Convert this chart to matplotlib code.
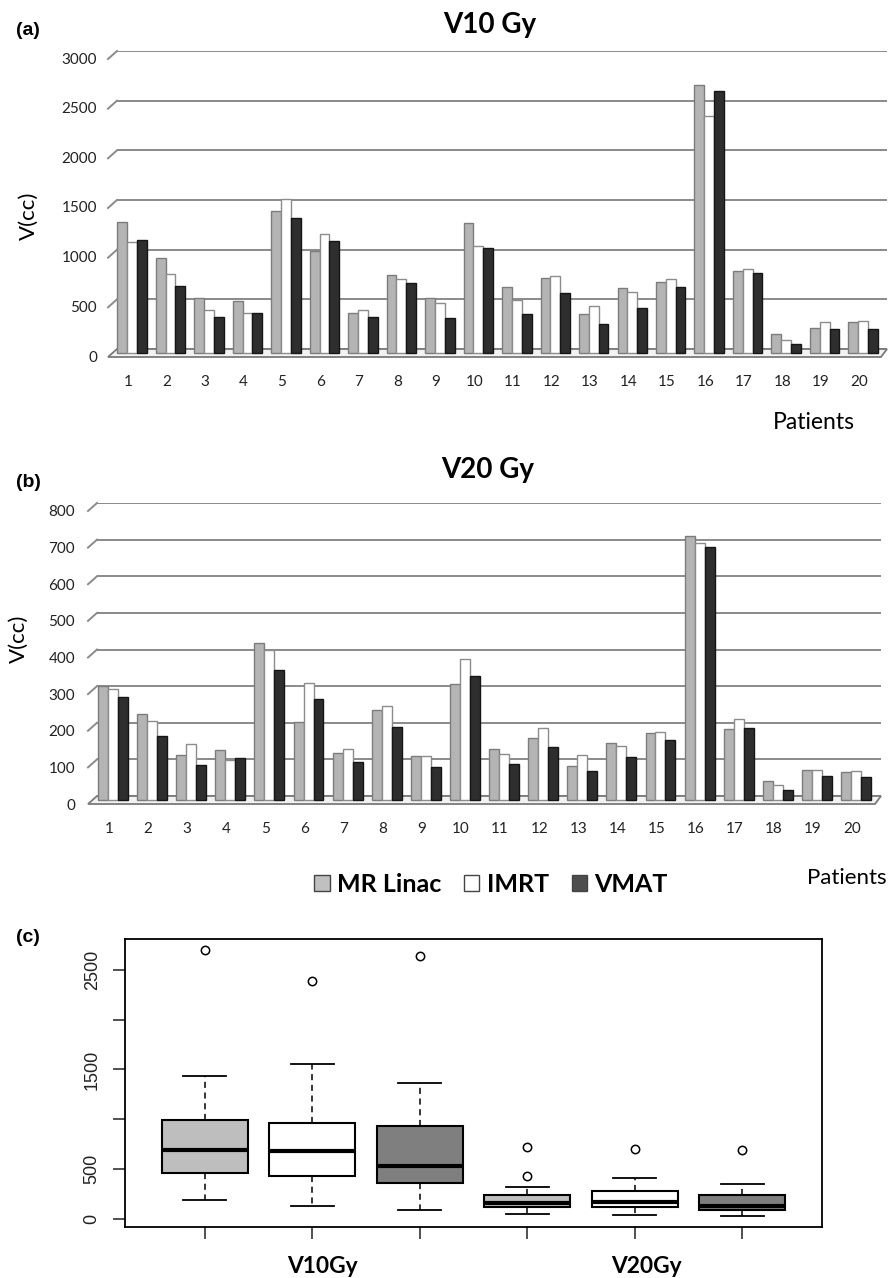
import numpy as np
import matplotlib
matplotlib.use("Agg")
import matplotlib.pyplot as plt
from matplotlib.transforms import ScaledTranslation, IdentityTransform
from matplotlib.lines import Line2D
from matplotlib.patches import Polygon, Patch

plt.rcParams['font.family'] = ['Lato', 'DejaVu Sans']

# ---------------- data ----------------
patients = [str(i) for i in range(1, 21)]
series = ['MR Linac', 'IMRT', 'VMAT']

v10_mr   = [1320, 960, 550, 520, 1430, 1030, 400, 785, 550, 1305, 665, 755, 390, 655, 715, 2700, 830, 190, 250, 315]
v10_imrt = [1120, 800, 430, 400, 1550, 1200, 430, 745, 505, 1080, 535, 775, 475, 615, 750, 2390, 850, 130, 315, 320]
v10_vmat = [1140, 670, 365, 405, 1360, 1125, 365, 705, 350, 1055, 390, 600, 295, 455, 665, 2640, 805, 90, 245, 240]

v20_mr   = [310, 235, 123, 136, 428, 213, 129, 245, 119, 317, 138, 170, 92, 156, 184, 722, 193, 51, 81, 76]
v20_imrt = [303, 217, 152, 108, 410, 320, 139, 256, 121, 384, 125, 197, 122, 147, 187, 703, 220, 40, 83, 79]
v20_vmat = [281, 175, 96, 115, 356, 275, 105, 199, 90, 339, 97, 144, 78, 117, 165, 690, 197, 28, 65, 63]

yticks_a = [0, 500, 1000, 1500, 2000, 2500, 3000]
yticks_b = [0, 100, 200, 300, 400, 500, 600, 700, 800]
yticks_c = [0, 500, 1000, 1500, 2000, 2500]
yticklabels_c = ['0', '500', '', '1500', '', '2500']
box_groups = ['V10Gy', 'V20Gy']

# ---------------- style ----------------
bar_face = ['#b4b4b4', '#ffffff', '#2e2e2e']
bar_edge = ['#7c7c7c', '#8c8c8c', '#151515']
leg_face = ['#c0c0c0', '#ffffff', '#4d4d4d']
box_face = ['#BEBEBE', '#FFFFFF', '#7F7F7F']
grid_col = '#8a8a8a'

W, H = 893, 1278
fig = plt.figure(figsize=(W / 100, H / 100), dpi=100)


def px_axes(l, t, r, b):
    return fig.add_axes([l / W, 1 - b / H, (r - l) / W, (b - t) / H])


def bar_panel(box, xlim, yticks, data, ylab_pad, ylab_dy, depth):
    ax = px_axes(*box)
    x = np.arange(1, len(patients) + 1)
    w = 0.255
    shift = ScaledTranslation(0, -4 / 100, fig.dpi_scale_trans)
    for k, vals in enumerate(data):
        bars = ax.bar(x + (k - 1) * w, vals, width=w, color=bar_face[k],
                      edgecolor=bar_edge[k], linewidth=1.0, zorder=3)
        for r in bars:
            r.set_transform(ax.transData + shift)
            r.set_clip_on(False)
    ax.set_xlim(*xlim)
    ax.set_ylim(yticks[0], yticks[-1])
    ax.set_yticks(yticks)
    ax.set_yticklabels([str(v) for v in yticks])
    ax.set_xticks(x)
    ax.set_xticklabels(patients)
    for s in ax.spines.values():
        s.set_visible(False)
    ax.grid(axis='y', color=grid_col, linewidth=1.4, zorder=0)
    ax.set_axisbelow(True)
    ax.tick_params(axis='both', length=0, labelsize=11, colors='#222222')
    ax.tick_params(axis='x', pad=19)
    ax.tick_params(axis='y', pad=ylab_pad)
    off = ScaledTranslation(0, -ylab_dy / 100, fig.dpi_scale_trans)
    for lbl in ax.get_yticklabels():
        lbl.set_transform(lbl.get_transform() + off)
    offx = ScaledTranslation(-4 / 100, 0, fig.dpi_scale_trans)
    for lbl in ax.get_xticklabels():
        lbl.set_transform(lbl.get_transform() + offx)
    # 3-D look: slanted stubs and floor
    dx, dy = depth
    for v in yticks[1:]:
        xb, yb = ax.transData.transform((xlim[0], v))
        fig.add_artist(Line2D([xb, xb - dx], [yb, yb - dy], color=grid_col,
                              linewidth=1.4, transform=IdentityTransform()))
    (xl, yb0) = ax.transAxes.transform((0, 0))
    (xr, _) = ax.transAxes.transform((1, 0))
    floor = Polygon([[xl, yb0], [xr, yb0], [xr - 6, yb0 - dy], [xl - dx, yb0 - dy]],
                    closed=True, facecolor='#f2f2f2', edgecolor='#7a7a7a',
                    linewidth=1.3, transform=IdentityTransform(), zorder=1)
    ax.add_artist(floor)
    floor.set_clip_on(False)
    return ax


# ---------------- panel (a) ----------------
axa = bar_panel((117, 51, 887, 349), (0.61, 20.62), yticks_a,
                [v10_mr, v10_imrt, v10_vmat], ylab_pad=20 * 0.72, ylab_dy=7, depth=(9, 8))
fig.text(29 / W, 1 - 216 / H, 'V(cc)', fontsize=16, rotation=90, ha='center', va='center')
fig.text(490 / W, 1 - 33 / H, 'V10 Gy', fontsize=20, fontweight='bold', ha='center', va='baseline')
fig.text(16 / W, 1 - 35 / H, '(a)', fontsize=14, fontweight='bold', ha='left', va='baseline',
         family=['Liberation Sans', 'DejaVu Sans'])
fig.text(773 / W, 1 - 429 / H, 'Patients', fontsize=16.5, ha='left', va='baseline')

# ---------------- panel (b) ----------------
axb = bar_panel((97, 503, 881, 796), (0.59, 20.64), yticks_b,
                [v20_mr, v20_imrt, v20_vmat], ylab_pad=22 * 0.72, ylab_dy=8, depth=(9, 8))
fig.text(19 / W, 1 - 639 / H, 'V(cc)', fontsize=16, rotation=90, ha='center', va='center')
fig.text(488 / W, 1 - 478 / H, 'V20 Gy', fontsize=20, fontweight='bold', ha='center', va='baseline')
fig.text(16 / W, 1 - 487 / H, '(b)', fontsize=14, fontweight='bold', ha='left', va='baseline',
         family=['Liberation Sans', 'DejaVu Sans'])
fig.text(807 / W, 1 - 884 / H, 'Patients', fontsize=16, ha='left', va='baseline')

handles = [Patch(facecolor=leg_face[k], edgecolor='#444444', linewidth=1.0) for k in range(3)]
fig.legend(handles, series, loc='center', bbox_to_anchor=(491 / W, 1 - 884 / H), ncol=3,
           frameon=False, prop={'weight': 'bold', 'size': 18}, handlelength=0.62,
           handleheight=0.62, handletextpad=0.3, columnspacing=0.9, borderpad=0)


# ---------------- panel (c) ----------------
def r_box_stats(vals):
    x = np.sort(np.asarray(vals, dtype=float))
    n = len(x)
    n4 = np.floor((n + 3) / 2) / 2
    d = np.array([1, n4, (n + 1) / 2, n + 1 - n4, n]) - 1
    five = 0.5 * (x[np.floor(d).astype(int)] + x[np.ceil(d).astype(int)])
    iqr = five[3] - five[1]
    lo, hi = five[1] - 1.5 * iqr, five[3] + 1.5 * iqr
    inside = x[(x >= lo) & (x <= hi)]
    return dict(med=five[2], q1=five[1], q3=five[3], whislo=inside.min(), whishi=inside.max(),
                fliers=x[(x < lo) | (x > hi)])


box_data = [v10_mr, v10_imrt, v10_vmat, v20_mr, v20_imrt, v20_vmat]
stats = [r_box_stats(v) for v in box_data]
axc = px_axes(125, 939, 822, 1227)
pos = np.arange(1, len(box_data) + 1)
bp = axc.bxp(stats, positions=pos, widths=0.8, patch_artist=True, capwidths=0.4,
             boxprops=dict(linewidth=1.5, edgecolor='black'),
             medianprops=dict(linewidth=3.0, color='black', solid_capstyle='butt'),
             whiskerprops=dict(linewidth=1.1, linestyle=(0, (4, 3)), color='black'),
             capprops=dict(linewidth=1.3, color='black'),
             flierprops=dict(marker='o', markerfacecolor='none', markeredgecolor='black',
                             markersize=6, markeredgewidth=1.1))
for k, patch in enumerate(bp['boxes']):
    patch.set_facecolor(box_face[k % 3])
allv = np.concatenate([np.asarray(v, float) for v in box_data])
span = allv.max() - allv.min()
axc.set_ylim(allv.min() - 0.04 * span, allv.max() + 0.04 * span)
axc.set_xlim(0.5 - 0.04 * 6, 6.5 + 0.04 * 6)
axc.set_yticks(yticks_c)
axc.set_yticklabels(yticklabels_c, rotation=90, va='center',
                    family=['Liberation Sans', 'DejaVu Sans'], fontsize=13, color='#222222')
axc.set_xticks(pos)
axc.set_xticklabels([''] * len(pos))
axc.tick_params(axis='both', length=8.5, width=1.1, color='#222222')
axc.tick_params(axis='y', pad=9)
for s in axc.spines.values():
    s.set_linewidth(1.3)
for gx, g in zip([2.1, 5.11], box_groups):
    axc.text(gx, -0.159, g, transform=axc.get_xaxis_transform(), ha='center', va='baseline',
             fontsize=16.4, fontweight='bold')
fig.text(16 / W, 1 - 942 / H, '(c)', fontsize=14, fontweight='bold', ha='left', va='baseline',
         family=['Liberation Sans', 'DejaVu Sans'])

fig.savefig('out.png', dpi=100)
